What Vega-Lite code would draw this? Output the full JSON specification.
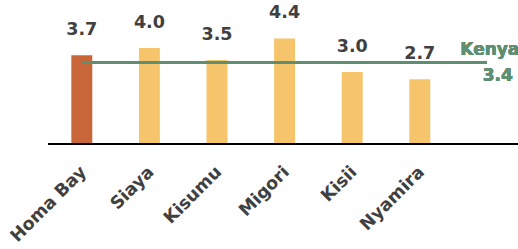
{
  "$schema": "https://vega.github.io/schema/vega-lite/v6.json",
  "width": 470,
  "height": 144,
  "autosize": "none",
  "padding": {"left": 48, "top": 0, "right": 0, "bottom": 105},
  "background": "white",
  "config": {"view": {"stroke": null}, "font": "DejaVu Sans"},
  "data": {"values": [
    {"county": "Homa Bay", "value": 3.7, "label": "3.7", "home": true},
    {"county": "Siaya", "value": 4.0, "label": "4.0", "home": false},
    {"county": "Kisumu", "value": 3.5, "label": "3.5", "home": false},
    {"county": "Migori", "value": 4.4, "label": "4.4", "home": false},
    {"county": "Kisii", "value": 3.0, "label": "3.0", "home": false},
    {"county": "Nyamira", "value": 2.7, "label": "2.7", "home": false}
  ]},
  "layer": [
    {
      "mark": {"type": "bar"},
      "encoding": {
        "x": {"field": "county", "type": "nominal", "sort": null,
          "scale": {"range": [0, 405.6], "paddingInner": 0.69, "paddingOuter": 0.345},
          "axis": {"title": null, "domain": false, "ticks": false, "labelAngle": -45, "labelAlign": "right", "labelBaseline": "middle", "labelFontSize": 17.5, "labelFontWeight": "bold", "labelColor": "#404040", "labelPadding": 25, "labelOffset": 2}},
        "y": {"field": "value", "type": "quantitative", "scale": {"domain": [0, 6]}, "axis": null},
        "color": {"field": "home", "type": "nominal", "scale": {"domain": [true, false], "range": ["#c8663a", "#f6c46b"]}, "legend": null}
      }
    },
    {
      "mark": {"type": "text", "dy": -25, "fontSize": 17.5, "fontWeight": "bold", "color": "#404040"},
      "encoding": {
        "x": {"field": "county", "type": "nominal", "sort": null},
        "y": {"field": "value", "type": "quantitative"},
        "text": {"field": "label"}
      }
    },
    {
      "mark": {"type": "rule", "color": "#000000", "strokeWidth": 1.5},
      "encoding": {"y": {"datum": 0}}
    },
    {
      "mark": {"type": "rule", "color": "#5f8f72", "strokeWidth": 2.5, "x2Offset": 67},
      "encoding": {
        "x": {"datum": "Homa Bay"},
        "x2": {"datum": "Nyamira"},
        "y": {"datum": 3.4}
      }
    },
    {
      "mark": {"type": "text", "dx": 70, "dy": -12, "fontSize": 17, "fontWeight": "bold", "color": "#5f8f72"},
      "encoding": {"x": {"datum": "Nyamira"}, "y": {"datum": 3.4}, "text": {"value": "Kenya"}}
    },
    {
      "mark": {"type": "text", "dx": 78, "dy": 14, "fontSize": 17, "fontWeight": "bold", "color": "#5f8f72"},
      "encoding": {"x": {"datum": "Nyamira"}, "y": {"datum": 3.4}, "text": {"value": "3.4"}}
    }
  ]
}
